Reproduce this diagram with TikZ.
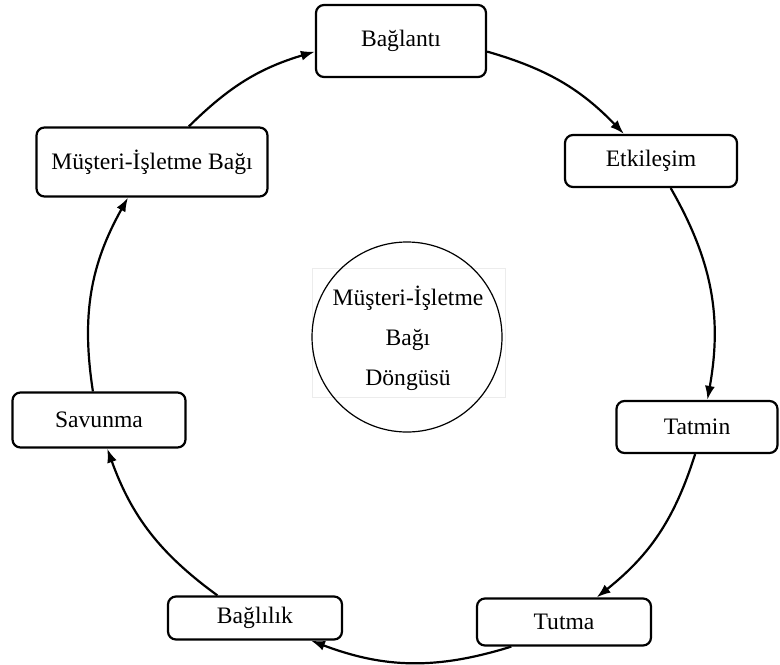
\documentclass[tikz,border=0pt]{standalone}
\usepackage{fontspec}
\setmainfont{Liberation Serif}
\usetikzlibrary{arrows.meta}
\tikzset{
  stage/.style={draw, line width=1.1pt, rounded corners=4pt, inner sep=0pt,
    font=\fontsize{11.8}{14}\selectfont},
  flow/.style={line width=1.1pt, -{Latex[length=7pt,width=5pt]}, bend left=#1},
}
\begin{document}
\begin{tikzpicture}[x=0.5pt, y=0.5pt]
  \useasboundingbox (0,0) rectangle (780,-664);
  % stages of the cycle
  \node[stage, minimum width=85pt, minimum height=36pt] (bag) at (401,-41) {Bağlantı};
  \node[stage, minimum width=86pt, minimum height=26pt] (etk) at (651,-161) {Etkileşim};
  \node[stage, minimum width=80.5pt, minimum height=26pt] (tat) at (697,-427) {Tatmin};
  \node[stage, minimum width=87pt, minimum height=23.5pt] (tut) at (564,-622) {Tutma};
  \node[stage, minimum width=87pt, minimum height=21.5pt] (bgl) at (255,-618) {Bağlılık};
  \node[stage, minimum width=86.5pt, minimum height=27.5pt] (sav) at (99,-420) {Savunma};
  \node[stage, minimum width=115.5pt, minimum height=34.5pt] (mib) at (152,-162) {Müşteri-İşletme Bağı};
  % centre
  \node[draw=gray!15, line width=0.4pt, minimum width=96.5pt, minimum height=64.5pt] (frame) at (408.5,-332.5) {};
  \node[draw, circle, line width=0.6pt, minimum size=95pt] (cyc) at (407,-337) {};
  \node[align=center, font=\fontsize{11.8}{20}\selectfont] (lbl) at (408,-338) {Müşteri-İşletme\\Bağı\\Döngüsü};
  % arrows
  \draw[flow=14] (mib.44) to (bag.187);
  \draw[flow=15] (bag.-7) to (etk.135);
  \draw[flow=20] (etk.-54) to (tat.69);
  \draw[flow=17] (tat.-94) to (tut.37);
  \draw[flow=19] (tut.205) to (bgl.-22);
  \draw[flow=17] (bgl.149) to (sav.-74);
  \draw[flow=19] (sav.102) to (mib.236);
\end{tikzpicture}
\end{document}
